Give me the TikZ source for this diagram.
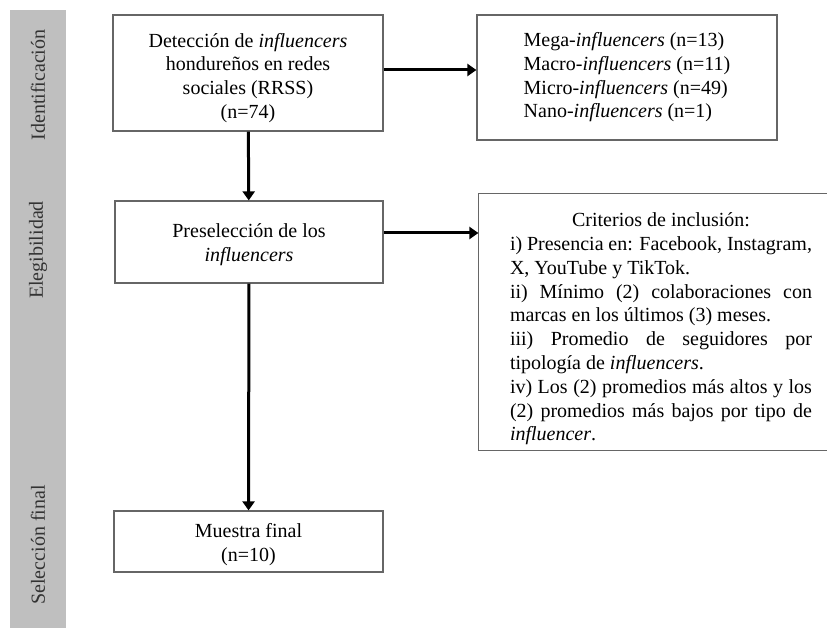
\documentclass[tikz,border=0pt]{standalone}
\usepackage{fontspec}
\setmainfont{Liberation Serif}
\usetikzlibrary{arrows.meta}

\begin{document}
\begin{tikzpicture}[x=0.5pt, y=0.5pt,
    font=\fontsize{10}{11.9}\selectfont,
    box/.style={draw=black!60, line width=0.6pt, fill=white, align=center, inner sep=2pt},
    arr/.style={draw, line width=1.5pt, -{Triangle[width=6pt, length=4.5pt]}},
    stage/.style={rotate=90, text=black!80}]
    \useasboundingbox (0,0) rectangle (827,628);

    % franja de etapas
    \fill[black!25] (10,0) rectangle (66,618);
    \node[stage] (ident) at (38, 543) {Identificación};
    \node[stage] (eleg) at (38, 378) {Elegibilidad};
    \node[stage] (selec) at (38, 83) {Selección final};

    % cajas
    \node[box, minimum width=135pt, minimum height=58pt] (deteccion) at (248, 555)
      {\rule{0pt}{12pt}Detección de \emph{influencers}\\ hondureños en redes\\ sociales (RRSS)\\ (n=74)};
    \node[box, minimum width=150pt, minimum height=62.5pt] (tipos) at (627, 550.5)
      {\begin{tabular}{@{}l@{}}
        Mega-\emph{influencers} (n=13)\\
        Macro-\emph{influencers} (n=11)\\
        Micro-\emph{influencers} (n=49)\\
        Nano-\emph{influencers} (n=1)
      \end{tabular}};
    \node[box, minimum width=134pt, minimum height=41pt] (presel) at (249, 386)
      {\rule{0pt}{10pt}Preselección de los\\ \emph{influencers}};
    % la caja de criterios sale por el borde derecho
    \node[box, draw=none, minimum width=182pt, minimum height=128pt, text width=151pt, align=justify] (criterios) at (661, 306)
      {\hyphenpenalty=10000 \sloppy
       {\centering\rule{0pt}{14pt}Criterios de inclusión:\par}
       i) Presencia en: Facebook, Instagram,\linebreak X, YouTube y TikTok.\par
       ii) Mínimo (2) colaboraciones con\linebreak marcas en los últimos (3) meses.\par
       iii) Promedio de seguidores por\linebreak tipología de \emph{influencers}.\par
       iv) Los (2) promedios más altos y los\linebreak (2) promedios más bajos por tipo de\linebreak \emph{influencer}.\par};
    \draw[black!60, line width=0.6pt] (criterios.north east) -- (criterios.north west)
      -- (criterios.south west) -- (criterios.south east);
    \node[box, minimum width=134.5pt, minimum height=30.5pt] (muestra) at (248.5, 86.5)
      {\rule{0pt}{10pt}Muestra final\\ (n=10)};

    % flechas
    \path[arr]
      (deteccion) edge (presel)
      (presel) edge (muestra);
    \draw[arr] ([yshift=1.5pt]deteccion.east) -- ([yshift=1.5pt]deteccion.east -| tipos.west);
    \draw[arr] ([yshift=4.5pt]presel.east) -- ([yshift=4.5pt]presel.east -| criterios.west);
\end{tikzpicture}
\end{document}
